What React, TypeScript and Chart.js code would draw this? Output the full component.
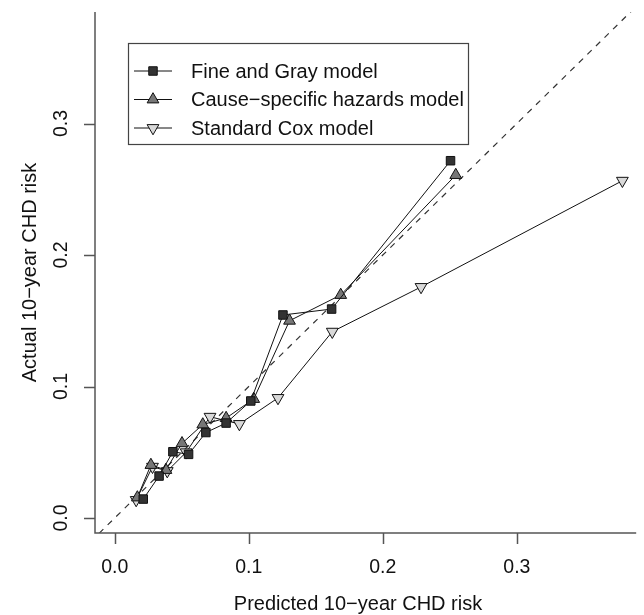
import { useEffect, useRef } from "react";
import { Chart, registerables } from "chart.js";

Chart.register(...registerables);

// Tick values and labels
const xTicks = [0, 0.1, 0.2, 0.3];
const yTicks = [0, 0.1, 0.2, 0.3];
const tickLabels = ["0.0", "0.1", "0.2", "0.3"];

const xTitle = "Predicted 10\u2212year CHD risk";
const yTitle = "Actual 10\u2212year CHD risk";

const seriesNames = ["Fine and Gray model", "Cause\u2212specific hazards model", "Standard Cox model"];

// Fine and Gray model
const fgX = [0.0213, 0.0331, 0.0434, 0.0551, 0.068, 0.0831, 0.1015, 0.1255, 0.1618, 0.2505];
const fgY = [0.0144, 0.0319, 0.0504, 0.0484, 0.065, 0.0722, 0.089, 0.1544, 0.1589, 0.2717];

// Cause-specific hazards model
const csX = [0.0169, 0.027, 0.0382, 0.0502, 0.0657, 0.0831, 0.1037, 0.1304, 0.1686, 0.2544];
const csY = [0.0156, 0.0403, 0.0365, 0.0568, 0.0711, 0.076, 0.0905, 0.15, 0.1696, 0.2608];

// Standard Cox model
const coxX = [0.016, 0.0282, 0.0392, 0.0533, 0.0711, 0.093, 0.1218, 0.1623, 0.2285, 0.3787];
const coxY = [0.0137, 0.039, 0.0357, 0.05, 0.077, 0.0715, 0.0913, 0.1417, 0.1757, 0.2565];

// Reference line y = x
const refLine = [-0.05, 0.45];

const FONT = '"Liberation Sans", Arial, Helvetica, sans-serif';

function pts(xs: number[], ys: number[]) {
  return xs.map((x, i) => ({ x, y: ys[i] }));
}

function drawMarker(ctx: CanvasRenderingContext2D, kind: string, x: number, y: number, fill: string) {
  ctx.save();
  ctx.fillStyle = fill;
  ctx.strokeStyle = "#111";
  ctx.lineWidth = 1;
  ctx.beginPath();
  if (kind === "rect") {
    const s = 6 * Math.SQRT1_2;
    ctx.rect(x - s, y - s, 2 * s, 2 * s);
  } else {
    const r = 6.8;
    const dir = kind === "up" ? 1 : -1;
    for (let k = 0; k < 3; k++) {
      const a = (k * 2 * Math.PI) / 3;
      const px = x + Math.sin(a) * r;
      const py = y - dir * Math.cos(a) * r;
      if (k === 0) ctx.moveTo(px, py);
      else ctx.lineTo(px, py);
    }
    ctx.closePath();
  }
  ctx.fill();
  ctx.stroke();
  ctx.restore();
}

const rPlot = {
  id: "rPlot",
  afterDraw(chart: any) {
    const { ctx, chartArea } = chart;
    const xs = chart.scales.x;
    const ys = chart.scales.y;
    const { left, right, top, bottom } = chartArea;
    ctx.save();
    // axes lines
    ctx.strokeStyle = "#555";
    ctx.lineWidth = 1.5;
    ctx.beginPath();
    ctx.moveTo(left, top);
    ctx.lineTo(left, bottom);
    ctx.lineTo(right, bottom);
    ctx.stroke();
    // ticks
    ctx.beginPath();
    xTicks.forEach((v) => {
      const px = Math.round(xs.getPixelForValue(v)) + 0.5;
      ctx.moveTo(px, bottom);
      ctx.lineTo(px, bottom + 11);
    });
    yTicks.forEach((v) => {
      const py = Math.round(ys.getPixelForValue(v)) + 0.5;
      ctx.moveTo(left, py);
      ctx.lineTo(left - 11, py);
    });
    ctx.stroke();
    // tick labels
    ctx.fillStyle = "#111";
    ctx.font = "19.5px " + FONT;
    ctx.textAlign = "center";
    ctx.textBaseline = "middle";
    xTicks.forEach((v, i) => {
      ctx.fillText(tickLabels[i], xs.getPixelForValue(v), bottom + 35);
    });
    yTicks.forEach((v, i) => {
      ctx.save();
      ctx.translate(left - 33, ys.getPixelForValue(v));
      ctx.rotate(-Math.PI / 2);
      ctx.fillText(tickLabels[i], 0, 0);
      ctx.restore();
    });
    // titles
    ctx.font = "20px " + FONT;
    ctx.fillText(xTitle, 358, 604);
    ctx.save();
    ctx.translate(30, (top + bottom) / 2);
    ctx.rotate(-Math.PI / 2);
    ctx.fillText(yTitle, 0, 0);
    ctx.restore();

    // legend
    ctx.strokeStyle = "#444";
    ctx.lineWidth = 1.2;
    ctx.strokeRect(128.5, 43.5, 340, 101);
    const rows = [71, 99.5, 128];
    const kinds = ["rect", "up", "down"];
    const fills = ["#333333", "#777777", "#d9d9d9"];
    ctx.font = "20px " + FONT;
    ctx.textAlign = "left";
    rows.forEach((ry, i) => {
      ctx.strokeStyle = "#111";
      ctx.lineWidth = 1;
      ctx.beginPath();
      ctx.moveTo(134, ry);
      ctx.lineTo(172, ry);
      ctx.stroke();
      drawMarker(ctx, kinds[i], 153, ry, fills[i]);
      ctx.fillStyle = "#111";
      ctx.fillText(seriesNames[i], 191, ry + 1);
    });
    ctx.restore();
  },
};

export default function App() {
  const ref = useRef<HTMLCanvasElement>(null);
  useEffect(() => {
    document.body.style.margin = "0";
    if (!ref.current) return;
    const chart = new Chart(ref.current, {
      type: "line",
      data: {
        datasets: [
          {
            label: seriesNames[0],
            data: pts(fgX, fgY),
            borderColor: "#111",
            borderWidth: 1,
            pointStyle: "rect",
            pointRadius: 6,
            pointBackgroundColor: "#333333",
            pointBorderColor: "#111",
            pointBorderWidth: 1,
          },
          {
            label: seriesNames[1],
            data: pts(csX, csY),
            borderColor: "#111",
            borderWidth: 1,
            pointStyle: "triangle",
            pointRadius: 6.8,
            pointBackgroundColor: "#777777",
            pointBorderColor: "#111",
            pointBorderWidth: 1,
          },
          {
            label: seriesNames[2],
            data: pts(coxX, coxY),
            borderColor: "#111",
            borderWidth: 1,
            pointStyle: "triangle",
            pointRotation: 180,
            pointRadius: 6.8,
            pointBackgroundColor: "#d9d9d9",
            pointBorderColor: "#111",
            pointBorderWidth: 1,
          },
          {
            label: "ref",
            data: refLine.map((v) => ({ x: v, y: v })),
            borderColor: "#333",
            borderWidth: 1.2,
            borderDash: [6, 6],
            pointRadius: 0,
          },
        ],
      },
      options: {
        responsive: false,
        animation: false,
        events: [],
        layout: { padding: { left: 95, right: 0, top: 12, bottom: 82 } },
        plugins: { legend: { display: false }, tooltip: { enabled: false } },
        scales: {
          x: { type: "linear", min: -0.0147, max: 0.389, display: false },
          y: { type: "linear", min: -0.0114, max: 0.3848, display: false },
        },
      },
      plugins: [rPlot],
    });
    return () => chart.destroy();
  }, []);
  return <canvas ref={ref} width={644} height={615} style={{ display: "block" }} />;
}
